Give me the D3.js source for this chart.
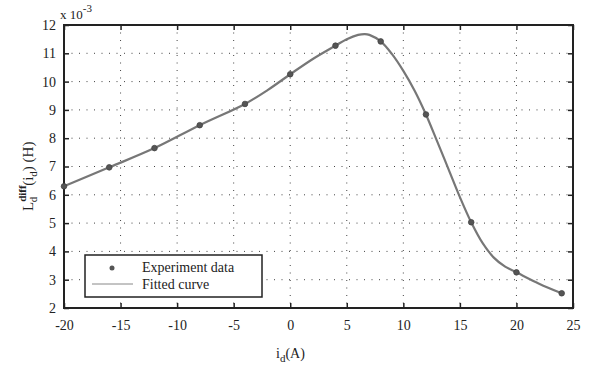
<!DOCTYPE html>
<html>
<head>
<meta charset="utf-8">
<script src="https://cdn.jsdelivr.net/npm/d3@7"></script>
<style>
  body { margin: 0; background: #fff; }
  svg text { font-family: "Liberation Serif", "DejaVu Serif", serif !important; fill: #222; }
</style>
</head>
<body>
<div class="chart"></div>
<script>
// measured points (x = i_d in A, y = inductance x 1e-3 H)
var expX = [-20, -16, -12, -8, -4, 0, 4, 8, 12, 16, 20, 24];
var expY = [6.3, 6.97, 7.65, 8.46, 9.21, 10.26, 11.27, 11.42, 8.84, 5.03, 3.26, 2.52];

// fitted curve
var fitX = [-20, -16, -12, -8, -4, -2, 0, 2, 4, 5, 6, 6.6, 7, 8, 9, 10, 11, 12, 13, 14, 15, 16, 17, 18, 19, 20, 22, 24];
var fitY = [6.3, 6.97, 7.65, 8.46, 9.21, 9.7, 10.26, 10.8, 11.27, 11.5, 11.65, 11.68, 11.65, 11.42, 10.97, 10.38, 9.68, 8.84, 7.88, 6.9, 5.92, 5.03, 4.3, 3.78, 3.46, 3.26, 2.86, 2.52];

var xTicks = [-20, -15, -10, -5, 0, 5, 10, 15, 20, 25];
var yTicks = [2, 3, 4, 5, 6, 7, 8, 9, 10, 11, 12];
var legendLabels = ["Experiment data", "Fitted curve"];

var svgWidth = 593;
var svgHeight = 371;
var margin = { top: 25, right: 20, bottom: 63, left: 64 };
var width = svgWidth - margin.left - margin.right;
var height = svgHeight - margin.top - margin.bottom;

var svg = d3.select(".chart")
  .append("svg")
  .attr("width", svgWidth)
  .attr("height", svgHeight);

var chartGroup = svg.append("g")
  .attr("transform", `translate(${margin.left}, ${margin.top})`);

var xScale = d3.scaleLinear().domain([-20, 25]).range([0, width]);
var yScale = d3.scaleLinear().domain([2, 12]).range([height, 0]);

// dotted grid
chartGroup.append("g")
  .selectAll("line")
  .data(xTicks.slice(1, -1))
  .enter()
  .append("line")
  .attr("x1", d => xScale(d)).attr("x2", d => xScale(d))
  .attr("y1", 0).attr("y2", height)
  .attr("stroke", "#444")
  .attr("stroke-width", 1)
  .attr("stroke-dasharray", "1,6.5");

chartGroup.append("g")
  .selectAll("line")
  .data(yTicks.slice(1, -1))
  .enter()
  .append("line")
  .attr("y1", d => yScale(d)).attr("y2", d => yScale(d))
  .attr("x1", 0).attr("x2", width)
  .attr("stroke", "#444")
  .attr("stroke-width", 1)
  .attr("stroke-dasharray", "1,6.5");

// axes with inward ticks, mirrored on top and right
function styleAxis(g) {
  g.attr("font-family", null).attr("font-size", null);
  g.select(".domain").remove();
  g.selectAll(".tick line").attr("stroke", "#222").attr("stroke-width", 1.5);
  g.selectAll(".tick text")
    .style("font-size", "14px")
    .attr("fill", "#222");
}

// plain hyphen for negatives, like the original
var fmt = d => String(d);

var bottomAxis = d3.axisBottom(xScale).tickValues(xTicks).tickSize(-5).tickPadding(12).tickFormat(fmt);
var leftAxis = d3.axisLeft(yScale).tickValues(yTicks).tickSize(-5).tickPadding(8).tickFormat(fmt);

chartGroup.append("g")
  .attr("transform", `translate(0, ${height})`)
  .call(bottomAxis)
  .call(styleAxis);

chartGroup.append("g")
  .call(leftAxis)
  .call(styleAxis);

chartGroup.append("g")
  .call(d3.axisTop(xScale).tickValues(xTicks).tickSize(-5).tickFormat(""))
  .call(styleAxis);

chartGroup.append("g")
  .attr("transform", `translate(${width}, 0)`)
  .call(d3.axisRight(yScale).tickValues(yTicks).tickSize(-5).tickFormat(""))
  .call(styleAxis);

// plot box
chartGroup.append("rect")
  .attr("x", 0).attr("y", 0)
  .attr("width", width).attr("height", height)
  .attr("fill", "none")
  .attr("stroke", "#222")
  .attr("stroke-width", 2);

// fitted curve
var line = d3.line()
  .x((d, i) => xScale(fitX[i]))
  .y(d => yScale(d))
  .curve(d3.curveCatmullRom);

chartGroup.append("path")
  .datum(fitY)
  .attr("d", line)
  .attr("fill", "none")
  .attr("stroke", "#777")
  .attr("stroke-width", 2.2);

// experiment points
chartGroup.selectAll(".pt")
  .data(expY)
  .enter()
  .append("circle")
  .attr("class", "pt")
  .attr("cx", (d, i) => xScale(expX[i]))
  .attr("cy", d => yScale(d))
  .attr("r", 2.8)
  .attr("fill", "#555")
  .attr("stroke", "#444")
  .attr("stroke-width", 0.8);

// legend
var legend = chartGroup.append("g")
  .attr("transform", "translate(21, 230)");

legend.append("rect")
  .attr("width", 177).attr("height", 42)
  .attr("fill", "#fff")
  .attr("stroke", "#222")
  .attr("stroke-width", 1.5);

legend.append("circle")
  .attr("cx", 27).attr("cy", 13)
  .attr("r", 2.5)
  .attr("fill", "#555");

legend.append("line")
  .attr("x1", 7).attr("x2", 48)
  .attr("y1", 29).attr("y2", 29)
  .attr("stroke", "#888")
  .attr("stroke-width", 1);

legend.selectAll(".lt")
  .data(legendLabels)
  .enter()
  .append("text")
  .attr("class", "lt")
  .attr("x", 57)
  .attr("y", (d, i) => 17 + i * 17)
  .style("font-size", "14px")
  .text(d => d);

// scale factor label
var sf = svg.append("text")
  .attr("x", 60).attr("y", 19)
  .style("font-size", "13px");
sf.append("tspan").text("x 10");
sf.append("tspan").attr("dy", -7).style("font-size", "11px").text("-3");

// x axis label
var xl = svg.append("text")
  .attr("x", 276).attr("y", 358)
  .style("font-size", "14px");
xl.append("tspan").text("i");
xl.append("tspan").attr("dy", 4).style("font-size", "11px").text("d");
xl.append("tspan").attr("dy", -4).text("(A)");

// y axis label
var yl = svg.append("text")
  .attr("transform", "translate(33, 211) rotate(-90)")
  .style("font-size", "15px");
yl.append("tspan").text("L");
yl.append("tspan").attr("dy", -7).style("font-size", "11px").style("font-weight", "bold").text("diff");
yl.append("tspan").attr("dx", -17).attr("dy", 11).style("font-size", "11px").text("d");
yl.append("tspan").attr("dx", 11).attr("dy", -4).text("(i");
yl.append("tspan").attr("dy", 4).style("font-size", "11px").text("d");
yl.append("tspan").attr("dy", -4).text(") (H)");
</script>
</body>
</html>
